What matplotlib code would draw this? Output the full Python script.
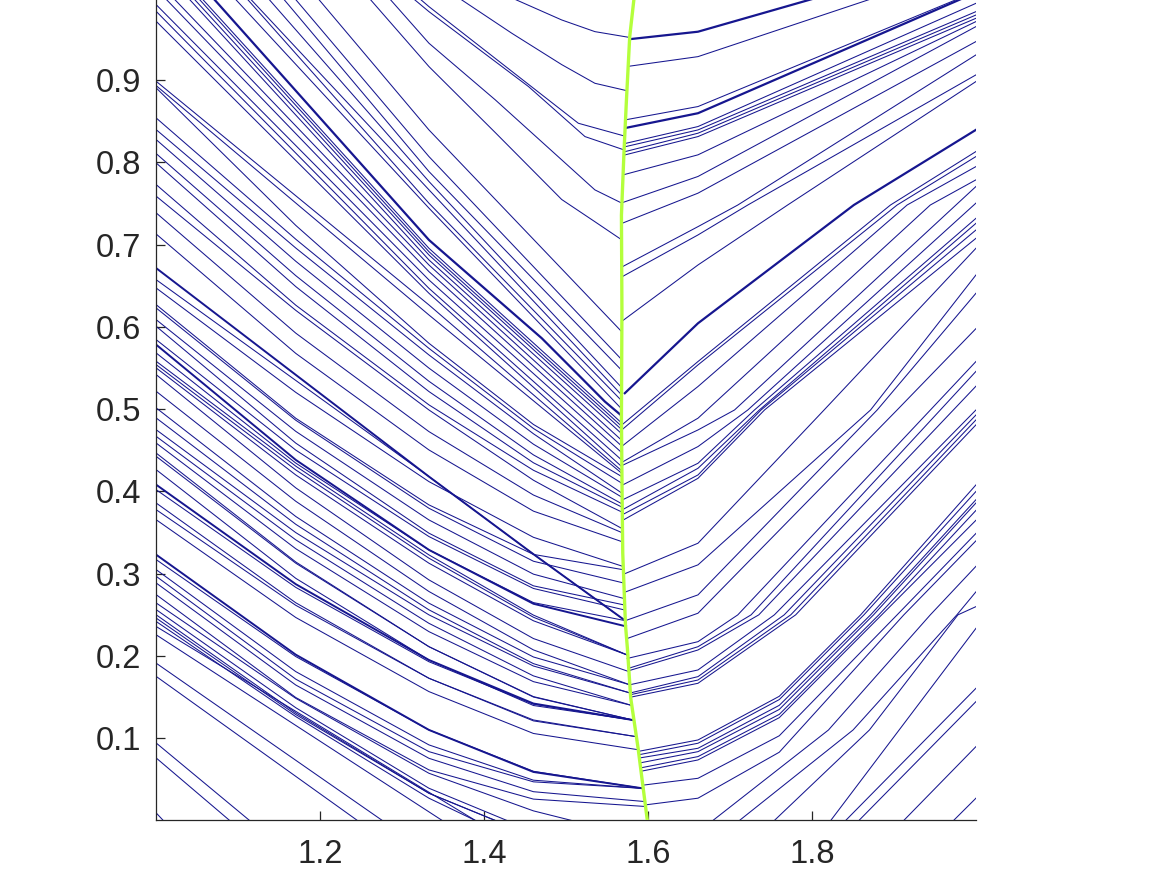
import matplotlib
matplotlib.use('Agg')
import matplotlib.pyplot as plt

# ---------------- data ----------------
X_TICKS = [1.2, 1.4, 1.6, 1.8]
X_TICK_LABELS = ['1.2', '1.4', '1.6', '1.8']
Y_TICKS = [0.1, 0.2, 0.3, 0.4, 0.5, 0.6, 0.7, 0.8, 0.9]
Y_TICK_LABELS = ['0.1', '0.2', '0.3', '0.4', '0.5', '0.6', '0.7', '0.8', '0.9']

# green separatrix
GREEN_X = [1.5828, 1.5775, 1.5735, 1.5706, 1.5674, 1.5680, 1.5674, 1.5682,
           1.5690, 1.5723, 1.5747, 1.5787, 1.5877, 1.5990]
GREEN_Y = [1.0, 0.953, 0.876, 0.815, 0.736, 0.62, 0.49, 0.398,
           0.325, 0.238, 0.209, 0.149, 0.088, 0.0]

# left-branch curves traced point by point (x, y)
LEFT_TRACED = [
    [(1.4338, 1.0), (1.4945, 0.9733), (1.535, 0.9591), (1.5775, 0.952)],
    [(1.369, 1.0), (1.4338, 0.957), (1.4945, 0.919), (1.535, 0.8963), (1.5735, 0.8874)],
    [(1.3202, 1.0), (1.3325, 0.9895), (1.4419, 0.9044), (1.5148, 0.8477), (1.5706, 0.8323)],
    [(1.3125, 1.0), (1.3325, 0.9834), (1.454, 0.8923), (1.5229, 0.8315), (1.5706, 0.8153)],
    [(1.2837, 1.0), (1.3325, 0.945), (1.4135, 0.8761), (1.4945, 0.8032), (1.535, 0.7667), (1.568, 0.7505)],
    [(1.2594, 1.0), (1.3325, 0.9166), (1.4135, 0.8363), (1.4945, 0.755), (1.535, 0.728), (1.568, 0.7058)],
]
LEFT_THICK = [
    [(1.069, 1.0), (1.3325, 0.7058), (1.4702, 0.5863), (1.5148, 0.5418), (1.5472, 0.5093), (1.5674, 0.4923)],
]

# other left-branch curves, read at fixed stations
LEFT_XA = 1.17
LEFT_MID_X = 1.3325
LEFT_XB = 1.46
# entry_x, entry_y, y@1.17, y@1.3325, y@1.46, end_x, end_y   (None = not crossed)
LEFT_BOLD_ROWS = [
    (1.0, 0.6713, 0.5418, 0.4181, 0.3238, 1.572, 0.243),
    (1.0, 0.5782, 0.4384, 0.3290, 0.2635, 1.573, 0.236),
    (1.0, 0.4080, 0.2873, 0.1951, 0.1422, 1.582, 0.122),
    (1.0, 0.3229, 0.2016, 0.1101, 0.0590, 1.594, 0.039),
]
LEFT_ROWS = [
    (1.1966, 1.0, None, 0.8396, None, 1.568, 0.594),
    (1.1683, 1.0, None, 0.8072, None, 1.568, 0.560),
    (1.1541, 1.0, None, 0.7890, None, 1.568, 0.547),
    (1.1359, 1.0, None, 0.7769, None, 1.568, 0.526),
    (1.1136, 1.0, None, 0.7668, None, 1.568, 0.517),
    (1.1096, 1.0, None, 0.7505, None, 1.568, 0.510),
    (1.0950, 1.0, None, 0.7445, None, 1.568, 0.500),
    (1.0549, 1.0, None, 0.6957, None, 1.568, 0.483),
    (1.0508, 1.0, None, 0.6916, None, 1.568, 0.479),
    (1.0448, 1.0, None, 0.6876, None, 1.568, 0.475),
    (1.0387, 1.0, None, 0.6815, None, 1.568, 0.470),
    (1.0205, 1.0, None, 0.6754, None, 1.568, 0.462),
    (1.0103, 1.0, None, 0.6673, None, 1.568, 0.455),
    (1.0, 0.9915, None, 0.6572, None, 1.568, 0.447),
    (1.0, 0.9834, None, 0.6470, None, 1.568, 0.438),
    (1.0, 0.9713, None, 0.6410, None, 1.568, 0.430),
    (1.0, 0.8984, None, 0.6268, None, 1.568, 0.425),
    (1.0, 0.8931, None, 0.6146, None, 1.568, 0.422),
    (1.0, 0.8903, 0.7235, 0.5802, 0.4815, 1.568, 0.418),
    (1.0, 0.8538, 0.7067, 0.5740, 0.4766, 1.568, 0.410),
    (1.0, 0.8396, 0.6960, 0.5660, 0.4702, 1.568, 0.398),
    (1.0, 0.8275, 0.6799, 0.5500, 0.4575, 1.568, 0.393),
    (1.0, 0.8105, 0.6624, 0.5340, 0.4445, 1.568, 0.385),
    (1.0, 0.7991, 0.6491, 0.5215, 0.4349, 1.568, 0.381),
    (1.0, 0.7728, 0.6265, 0.5053, 0.4258, 1.568, 0.375),
    (1.0, 0.7587, 0.6202, 0.4991, 0.4137, 1.568, 0.355),
    (1.0, 0.7384, 0.5925, 0.4728, 0.3957, 1.568, 0.350),
    (1.0, 0.7127, 0.5679, 0.4505, 0.3761, 1.568, 0.339),
    (1.0, 0.6572, 0.5350, 0.4181, 0.3238, 1.572, 0.243),
    (1.0, 0.6471, 0.5205, 0.4120, 0.3443, 1.569, 0.309),
    (1.0, 0.6268, 0.4890, 0.3837, 0.3235, 1.569, 0.305),
    (1.0, 0.6228, 0.4866, 0.3796, 0.3152, 1.569, 0.289),
    (1.0, 0.6086, 0.4731, 0.3654, 0.2995, 1.570, 0.270),
    (1.0, 0.6005, 0.4588, 0.3493, 0.2853, 1.571, 0.262),
    (1.0, 0.5843, 0.4503, 0.3452, 0.2821, 1.571, 0.256),
    (1.0, 0.5681, 0.4345, 0.3290, 0.2649, 1.572, 0.243),
    (1.0, 0.5580, 0.4308, 0.3229, 0.2497, 1.575, 0.201),
    (1.0, 0.5539, 0.4262, 0.3189, 0.2471, 1.575, 0.201),
    (1.0, 0.5499, 0.4201, 0.3128, 0.2428, 1.575, 0.201),
    (1.0, 0.5418, 0.4044, 0.2925, 0.2212, 1.5765, 0.181),
    (1.0, 0.5215, 0.3881, 0.2784, 0.2074, 1.5775, 0.165),
    (1.0, 0.5013, 0.3696, 0.2642, 0.1988, 1.5775, 0.165),
    (1.0, 0.4891, 0.3601, 0.2561, 0.1907, 1.578, 0.155),
    (1.0, 0.4748, 0.3500, 0.2500, 0.1878, 1.578, 0.155),
    (1.0, 0.4667, 0.3412, 0.2397, 0.1758, 1.5795, 0.140),
    (1.0, 0.4586, 0.3304, 0.2296, 0.1688, 1.5795, 0.140),
    (1.0, 0.4464, 0.3143, 0.2113, 0.1501, 1.582, 0.122),
    (1.0, 0.4424, 0.3128, 0.2113, 0.1506, 1.582, 0.122),
    (1.0, 0.4262, 0.2944, 0.1951, 0.1398, 1.582, 0.122),
    (1.0, 0.4019, 0.2834, 0.1930, 0.1414, 1.582, 0.122),
    (1.0, 0.3857, 0.2647, 0.1729, 0.1211, 1.585, 0.102),
    (1.0, 0.3776, 0.2616, 0.1729, 0.1222, 1.585, 0.102),
    (1.0, 0.3654, 0.2468, 0.1567, 0.1058, 1.588, 0.086),
    (1.0, 0.3169, 0.1993, 0.1101, 0.0598, 1.594, 0.039),
    (1.0, 0.3047, 0.1810, 0.0919, 0.0490, 1.594, 0.039),
    (1.0, 0.2966, 0.1718, 0.0837, 0.0470, 1.594, 0.039),
    (1.0, 0.2885, 0.1647, 0.0756, 0.0350, 1.596, 0.023),
    (1.0, 0.2743, 0.1495, 0.0615, 0.0260, 1.597, 0.017),
    (1.0, 0.2642, 0.1485, 0.0574, 0.0117, 1.5067, 0.0),
    (1.0, 0.2561, 0.1371, 0.0392, None, 1.4277, 0.0),
    (1.0, 0.2498, 0.1308, 0.0331, None, 1.4135, 0.0),
    (1.0, 0.2458, 0.1288, 0.0331, None, 1.4135, 0.0),
    (1.0, 0.2417, 0.1263, 0.0271, None, 1.3892, 0.0),
    (1.0, 0.2356, None, None, None, 1.3892, 0.0),
    (1.0, 0.2255, None, None, None, 1.3487, 0.0),
    (1.0, 0.1910, None, None, None, 1.2756, 0.0),
    (1.0, 0.1749, None, None, None, 1.2452, 0.0),
    (1.0, 0.0939, None, None, None, 1.1136, 0.0),
    (1.0, 0.0757, None, None, None, 1.0893, 0.0),
    (1.0, 0.0088, None, None, None, 1.0083, 0.0),
]

# right-branch curves (x, y) points
RIGHT_UPPER = [
    [(1.5715, 0.823), (1.6608, 0.8437), (2.0, 0.9935)],
    [(1.5712, 0.819), (1.6608, 0.8396), (2.0, 0.9834)],
    [(1.571, 0.813), (1.6608, 0.8356), (2.0, 0.9793)],
    [(1.5708, 0.809), (1.6608, 0.8315), (2.0, 0.9753)],
    [(1.5697, 0.785), (1.6608, 0.8093), (2.0, 0.9713)],
    [(1.568, 0.751), (1.6608, 0.783), (2.0, 0.9652)],
    [(1.568, 0.726), (1.6608, 0.7627), (2.0, 0.947)],
    [(1.568, 0.673), (1.6608, 0.722), (1.7094, 0.7483), (2.0, 0.9308)],
    [(1.568, 0.661), (1.6608, 0.7119), (1.7216, 0.7483), (2.0, 0.9065)],
    [(1.568, 0.607), (1.6608, 0.6754), (1.7702, 0.7483), (2.0, 0.8984)],
    [(1.5765, 0.917), (1.6608, 0.9287), (1.8755, 1.0)],
    [(1.573, 0.852), (1.6608, 0.868), (1.9808, 1.0)],
]
RIGHT_THICK = [
    [(1.578, 0.950), (1.6608, 0.959), (1.8046, 1.0)],
    [(1.5725, 0.842), (1.6608, 0.8599), (1.9848, 1.0)],
    [(1.5715, 0.5195), (1.6608, 0.6045), (1.851, 0.7483), (2.0, 0.8397)],
]
RIGHT_MID = [
    [(1.568, 0.481), (1.6608, 0.5580), (1.8957, 0.7483), (2.0, 0.8133)],
    [(1.568, 0.475), (1.6608, 0.5539), (1.9038, 0.7483), (2.0, 0.8072)],
    [(1.568, 0.455), (1.6608, 0.5276), (1.916, 0.7483), (2.0, 0.795)],
    [(1.569, 0.436), (1.6608, 0.4891), (1.9443, 0.7483), (2.0, 0.7789)],
    [(1.569, 0.432), (1.6608, 0.4748), (1.7054, 0.4991), (2.0, 0.7708)],
    [(1.569, 0.408), (1.6608, 0.4546), (1.7216, 0.4991), (2.0, 0.7506)],
    [(1.569, 0.390), (1.6608, 0.4343), (1.7297, 0.4991), (2.0, 0.7321)],
    [(1.569, 0.378), (1.6608, 0.4282), (1.7357, 0.4991), (2.0, 0.726)],
    [(1.569, 0.372), (1.6608, 0.4201), (1.7378, 0.4991), (2.0, 0.7179)],
    [(1.569, 0.365), (1.6608, 0.4160), (1.7420, 0.4991), (2.0, 0.7078)],
    [(1.569, 0.299), (1.6608, 0.3371), (1.8147, 0.4991), (2.0, 0.6957)],
    [(1.570, 0.277), (1.6608, 0.3108), (1.8714, 0.4991), (2.0, 0.6632)],
    [(1.5723, 0.243), (1.6608, 0.2743), (1.8795, 0.4991), (2.0, 0.641)],
    [(1.5737, 0.221), (1.6608, 0.2520), (1.9038, 0.4991), (2.0, 0.598)],
    [(1.5745, 0.197), (1.6608, 0.2174), (1.7094, 0.25), (2.0, 0.558)],
    [(1.576, 0.185), (1.6608, 0.2113), (1.7256, 0.25), (2.0, 0.546)],
    [(1.576, 0.182), (1.6608, 0.2073), (1.735, 0.25), (2.0, 0.528)],
    [(1.5775, 0.165), (1.6608, 0.183), (1.754, 0.25), (2.0, 0.4991)],
    [(1.578, 0.155), (1.6608, 0.1749), (1.766, 0.25), (2.0, 0.493)],
    [(1.5787, 0.153), (1.6608, 0.1708), (1.774, 0.25), (2.0, 0.487)],
    [(1.579, 0.150), (1.6608, 0.1668), (1.78, 0.25), (2.0, 0.481)],
]
RIGHT_LOW = [
    [(1.588, 0.084), (1.6608, 0.0979), (1.76, 0.151), (1.8593, 0.25), (2.0, 0.408)],
    [(1.589, 0.080), (1.6608, 0.0939), (1.76, 0.147), (1.8633, 0.25), (2.0, 0.400)],
    [(1.5895, 0.076), (1.6608, 0.0878), (1.76, 0.140), (1.8714, 0.25), (2.0, 0.390)],
    [(1.590, 0.070), (1.6608, 0.0837), (1.76, 0.135), (1.875, 0.25), (2.0, 0.386)],
    [(1.591, 0.064), (1.6608, 0.0777), (1.76, 0.129), (1.8815, 0.25), (2.0, 0.377)],
    [(1.592, 0.060), (1.6608, 0.0736), (1.76, 0.125), (1.885, 0.25), (2.0, 0.365)],
    [(1.594, 0.043), (1.6608, 0.0513), (1.76, 0.103), (1.9038, 0.25), (2.0, 0.349)],
    [(1.597, 0.019), (1.6608, 0.0271), (1.76, 0.083), (1.912, 0.25), (2.0, 0.340)],
    [(1.679, 0.0), (1.82, 0.11), (1.9443, 0.25), (2.0, 0.309)],
    [(1.7114, 0.0), (1.85, 0.11), (1.9767, 0.25), (2.0, 0.278)],
    [(1.754, 0.0), (1.87, 0.11), (1.978, 0.25), (2.0, 0.26)],
    [(1.8228, 0.0), (2.0, 0.2336)],
    [(1.841, 0.0), (2.0, 0.1607)],
    [(1.8572, 0.0), (2.0, 0.1445)],
    [(1.9119, 0.0), (2.0, 0.0898)],
    [(1.9727, 0.0), (2.0, 0.0271)],
]

# ---------------- drawing ----------------
plt.rcParams['font.family'] = ['Liberation Sans', 'DejaVu Sans']

BLUE = '#16168f'
TEXT = '#262626'

fig = plt.figure(figsize=(11.66, 8.75), dpi=100)
ax = fig.add_axes([0.1342, 0.0623, 0.7028, 0.94])


def draw(points, lw=0.75):
    xs = [p[0] for p in points]
    ys = [p[1] for p in points]
    ax.plot(xs, ys, color=BLUE, lw=lw, solid_joinstyle='round', zorder=2)


def draw_row(row, lw=0.75):
    ex, ey, ya, ym, yb, nx, ny = row
    pts = [(ex, ey)]
    for sx, sy in ((LEFT_XA, ya), (LEFT_MID_X, ym), (LEFT_XB, yb)):
        if sy is not None:
            pts.append((sx, sy))
    pts.append((nx, ny))
    draw(pts, lw)


for pts in LEFT_TRACED:
    draw(pts)
for pts in LEFT_THICK:
    draw(pts, lw=1.6)
for row in LEFT_ROWS:
    draw_row(row)
for row in LEFT_BOLD_ROWS:
    draw_row(row, lw=1.4)
for group in (RIGHT_UPPER, RIGHT_MID, RIGHT_LOW):
    for pts in group:
        draw(pts)
for pts in RIGHT_THICK:
    draw(pts, lw=1.6)

ax.plot(GREEN_X, GREEN_Y, color='#b4ff3c', lw=2.4, zorder=3,
        solid_capstyle='butt')

ax.set_xlim(1.0, 2.0)
ax.set_ylim(0.0, 1.0)
ax.set_xticks(X_TICKS)
ax.set_xticklabels(X_TICK_LABELS)
ax.set_yticks(Y_TICKS)
ax.set_yticklabels(Y_TICK_LABELS)
for s in ('top', 'right'):
    ax.spines[s].set_visible(False)
for s in ('left', 'bottom'):
    ax.spines[s].set_color(TEXT)
    ax.spines[s].set_linewidth(0.9)
ax.tick_params(direction='in', length=6.5, width=0.9, colors=TEXT,
               labelsize=23.5)
ax.tick_params(axis='x', pad=13)
ax.tick_params(axis='y', pad=11)
ax.set_facecolor('white')
fig.patch.set_facecolor('white')

fig.savefig('out.png', dpi=100)
